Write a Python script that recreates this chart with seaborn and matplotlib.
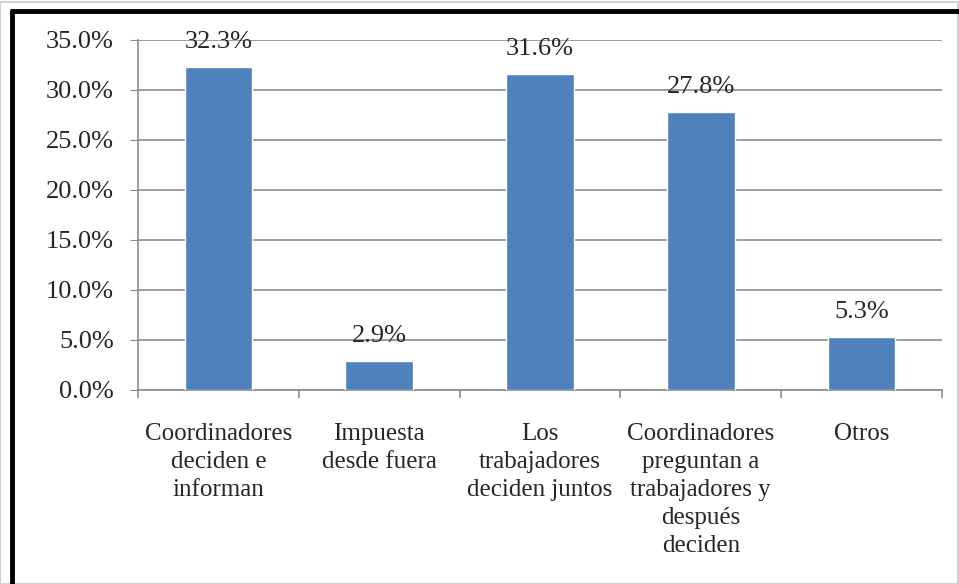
import matplotlib
matplotlib.use("Agg")
import matplotlib.pyplot as plt
import seaborn as sns
import pandas as pd
from matplotlib.patches import Rectangle
from matplotlib.ticker import FixedLocator, FuncFormatter

categories = ["Coordinadores\ndeciden e\ninforman",
              "Impuesta\ndesde fuera",
              "Los\ntrabajadores\ndeciden juntos",
              "Coordinadores\npreguntan a\ntrabajadores y\ndespués\ndeciden",
              "Otros"]
values = [32.3, 2.9, 31.6, 27.8, 5.3]
yticks = [0, 5, 10, 15, 20, 25, 30, 35]

sns.set_style("white")
plt.rcParams['font.family'] = ['Liberation Serif', 'DejaVu Serif']

df = pd.DataFrame({"cat": categories, "val": values})

fig = plt.figure(figsize=(9.59, 5.84), dpi=100)
ax = fig.add_axes([138/959, 1-390/584, (942-138)/959, 350/584])

sns.barplot(data=df, x="cat", y="val", color="#4F81BD", width=0.42,
            saturation=1, ax=ax, zorder=3)

ax.set_ylim(0, 35)
ax.set_xlim(-0.5, len(categories)-0.5)
ax.set_yticks(yticks)
ax.yaxis.set_major_formatter(FuncFormatter(lambda v, p: f"{v:.1f}%"))
ax.yaxis.grid(True, color="#8c8c8c", linewidth=1.2, zorder=0)
ax.set_axisbelow(True)
ax.set_xlabel("")
ax.set_ylabel("")

for s in ["top", "right"]:
    ax.spines[s].set_visible(False)
for s in ["left", "bottom"]:
    ax.spines[s].set_color("#8c8c8c")
    ax.spines[s].set_linewidth(1.2)

ax.tick_params(axis="y", which="major", left=True, length=5.5, color="#8c8c8c",
               labelsize=19, pad=12)
ax.tick_params(axis="x", which="major", bottom=False, labelsize=18, pad=20)
ax.set_xticks(range(len(categories)))
ax.set_xticklabels(categories, linespacing=1.36, va="top", ha="center")
ax.xaxis.set_minor_locator(FixedLocator([i - 0.5 for i in range(len(categories)+1)]))
ax.tick_params(axis="x", which="minor", bottom=True, length=6, color="#8c8c8c", width=1.2)

for i, v in enumerate(values):
    ax.annotate(f"{v:.1f}%", (i, v), xytext=(0, 10), textcoords="offset points",
                ha="center", va="bottom", fontsize=19)

# outer frame
fig.add_artist(Rectangle((0, 0), 0.9985, 0.997, transform=fig.transFigure, fill=False,
                         edgecolor="#d0d0d0", linewidth=1.5))
fig.add_artist(plt.Line2D([12/959, 12/959], [0, 1-10/584], transform=fig.transFigure,
                          color="black", linewidth=3.5, solid_capstyle="butt"))
fig.add_artist(plt.Line2D([10/959, 1], [1-11/584, 1-11/584], transform=fig.transFigure,
                          color="black", linewidth=3.5, solid_capstyle="butt"))

fig.savefig("out.png", dpi=100)
